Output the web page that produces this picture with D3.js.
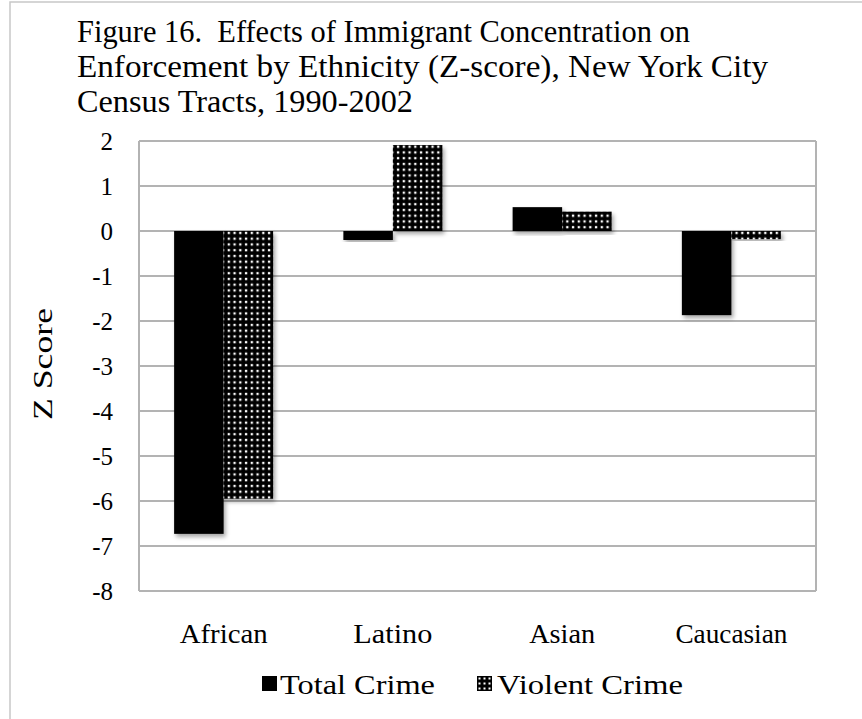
<!DOCTYPE html>
<html>
<head>
<meta charset="utf-8">
<script src="https://cdn.jsdelivr.net/npm/d3@7"></script>
<style>
  html, body { margin: 0; padding: 0; background: #fff; }
  svg { display: block; }
  text { font-family: "Liberation Serif", "Times New Roman", serif; fill: #000; white-space: pre; }
</style>
</head>
<body>
<svg id="chart" width="862" height="719"></svg>
<script>
// Chart data
const categories = ["African", "Latino", "Asian", "Caucasian"];
const seriesNames = ["Total Crime", "Violent Crime"];
const totalCrime = [-6.73, -0.2, 0.53, -1.87];
const violentCrime = [-5.95, 1.91, 0.43, -0.18];
const yTicks = [2, 1, 0, -1, -2, -3, -4, -5, -6, -7, -8];
const titleLines = [
  "Figure 16.  Effects of Immigrant Concentration on",
  "Enforcement by Ethnicity (Z-score), New York City",
  "Census Tracts, 1990-2002"
];
const yAxisTitle = "Z Score";

const rows = categories.map((c, i) => ({ category: c, values: [totalCrime[i], violentCrime[i]] }));

const plot = { left: 139, right: 816, top: 141, bottom: 591 };

const svg = d3.select("#chart");
const defs = svg.append("defs");

// Dotted fill for the violent crime series: white squares on black
const pat = defs.append("pattern")
  .attr("id", "dots").attr("patternUnits", "userSpaceOnUse")
  .attr("width", 5.75).attr("height", 5.75);
pat.append("rect").attr("width", 5.75).attr("height", 5.75).attr("fill", "#000");
pat.append("rect").attr("x", 1.8).attr("y", 1.8).attr("width", 2.3).attr("height", 2.3).attr("fill", "#fff");

const patL = defs.append("pattern")
  .attr("id", "dotsLegend").attr("patternUnits", "userSpaceOnUse")
  .attr("x", 477).attr("y", 676)
  .attr("width", 5).attr("height", 5);
patL.append("rect").attr("width", 5).attr("height", 5).attr("fill", "#000");
patL.append("rect").attr("x", 1.5).attr("y", 1.5).attr("width", 2).attr("height", 2).attr("fill", "#fff");

// Soft drop shadow under bars
const f = defs.append("filter").attr("id", "shadow")
  .attr("x", "-20%").attr("y", "-20%").attr("width", "140%").attr("height", "140%");
f.append("feDropShadow").attr("dx", 2).attr("dy", 3).attr("stdDeviation", 2.2)
  .attr("flood-color", "#000").attr("flood-opacity", 0.35);

// Outer frame (runs past the right and bottom edges of the page)
svg.append("rect").attr("x", 10).attr("y", 2).attr("width", 900).attr("height", 760)
  .attr("fill", "none").attr("stroke", "#c8c8c8").attr("stroke-width", 1.5);

// Scales
const x0 = d3.scaleBand().domain(categories).range([plot.left, plot.right]).paddingInner(0.415).paddingOuter(0.2075);
const x1 = d3.scaleBand().domain(seriesNames).range([0, x0.bandwidth()]);
const y = d3.scaleLinear().domain([-8, 2]).range([plot.bottom, plot.top]);

// Horizontal gridlines
svg.append("g").selectAll("line").data(yTicks).join("line")
  .attr("x1", plot.left).attr("x2", plot.right)
  .attr("y1", d => y(d)).attr("y2", d => y(d))
  .attr("stroke", "#b3b3b3").attr("stroke-width", 2);

// Plot frame sides
svg.append("line").attr("x1", plot.left).attr("x2", plot.left).attr("y1", plot.top).attr("y2", plot.bottom)
  .attr("stroke", "#b3b3b3").attr("stroke-width", 2);
svg.append("line").attr("x1", plot.right).attr("x2", plot.right).attr("y1", plot.top).attr("y2", plot.bottom)
  .attr("stroke", "#b3b3b3").attr("stroke-width", 2);

// Y axis labels (plain hyphen for negatives)
const yAxis = d3.axisLeft(y).tickValues(yTicks).tickSize(0).tickPadding(26).tickFormat(d => String(d));
const gy = svg.append("g").attr("transform", `translate(${plot.left},0)`).call(yAxis);
gy.select(".domain").remove();
gy.selectAll("text").style("font-family", "'Liberation Serif', serif").style("font-size", "25px")
  .attr("dy", "0.34em").attr("fill", "#000");

// Bars
const fills = ["#000", "url(#dots)"];
const groups = svg.append("g").selectAll("g").data(rows).join("g")
  .attr("transform", d => `translate(${x0(d.category)},0)`);
groups.selectAll("rect").data(d => d.values.map((v, i) => ({ v, i }))).join("rect")
  .attr("x", d => x1(seriesNames[d.i]))
  .attr("width", x1.bandwidth())
  .attr("y", d => y(Math.max(0, d.v)))
  .attr("height", d => Math.abs(y(d.v) - y(0)))
  .attr("fill", d => fills[d.i])
  .attr("filter", "url(#shadow)");

// Category labels
const catWidths = { African: 88, Latino: 79, Asian: 66, Caucasian: 112 };
const xAxis = d3.axisBottom(x0).tickSize(0).tickPadding(0);
const gx = svg.append("g").attr("transform", `translate(0,${plot.bottom + 52})`).call(xAxis);
gx.select(".domain").remove();
gx.selectAll("text").attr("dy", 0)
  .style("font-family", "'Liberation Serif', serif").style("font-size", "28px").attr("fill", "#000")
  .attr("textLength", d => catWidths[d]).attr("lengthAdjust", "spacingAndGlyphs");

// Title
const titleWidths = [613, 691, 336];
svg.append("g").selectAll("text").data(titleLines).join("text")
  .attr("x", 77).attr("y", (d, i) => 42 + i * 35)
  .attr("font-size", "31px")
  .attr("textLength", (d, i) => titleWidths[i])
  .attr("lengthAdjust", "spacingAndGlyphs")
  .text(d => d);

// Y axis title
svg.append("text")
  .attr("transform", `translate(52,${(plot.top + plot.bottom) / 2 - 2}) rotate(-90)`)
  .attr("text-anchor", "middle").attr("font-size", "28px")
  .attr("textLength", 112).attr("lengthAdjust", "spacingAndGlyphs")
  .text(yAxisTitle);

// Legend
const legend = svg.append("g");
const legendItems = [
  { name: seriesNames[0], fill: "#000", sx: 262, tx: 280, w: 155 },
  { name: seriesNames[1], fill: "url(#dotsLegend)", sx: 477, tx: 497, w: 186 }
];
legend.selectAll("rect").data(legendItems).join("rect")
  .attr("x", d => d.sx).attr("y", 676).attr("width", 15).attr("height", 15)
  .attr("fill", d => d.fill);
legend.selectAll("text").data(legendItems).join("text")
  .attr("x", d => d.tx).attr("y", 694).attr("font-size", "27px")
  .attr("textLength", d => d.w).attr("lengthAdjust", "spacingAndGlyphs")
  .text(d => d.name);
</script>
</body>
</html>
